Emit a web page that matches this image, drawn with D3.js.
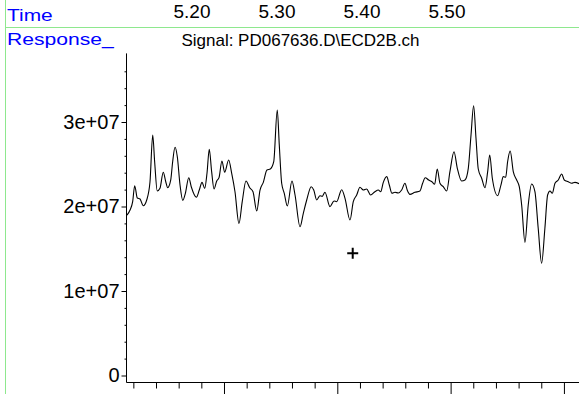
<!DOCTYPE html>
<html>
<head>
<meta charset="utf-8">
<script src="https://cdn.jsdelivr.net/npm/d3@7/dist/d3.min.js"></script>
<style>
  html, body { margin: 0; padding: 0; background: #fff; }
  svg { display: block; }
  text { font-family: "Liberation Sans", Arial, sans-serif; }
</style>
</head>
<body>
<svg id="chart" width="579" height="394"></svg>
<script>
// ---------- DATA ----------
// retention time (min)
const times = [5.1144,5.1171,5.1194,5.1212,5.1235,5.1259,5.1288,5.1318,5.1347,5.1371,
  5.1388,5.1411,5.1435,5.1464,5.1486,5.1503,5.1530,5.1547,5.1568,5.1588,
  5.1612,5.1636,5.1659,5.1689,5.1711,5.1756,5.1782,5.1806,5.1830,5.1850,
  5.1870,5.1891,5.1912,5.1936,5.1956,5.1982,5.2006,5.2041,5.2068,5.2097,
  5.2132,5.2161,5.2194,5.2227,5.2256,5.2289,5.2318,5.2347,5.2379,5.2409,
  5.2439,5.2470,5.2488,5.2509,5.2532,5.2559,5.2600,5.2627,5.2671,5.2700,
  5.2730,5.2770,5.2792,5.2818,5.2847,5.2867,5.2891,5.2935,5.2971,5.2994,
  5.3039,5.3068,5.3112,5.3141,5.3171,5.3200,5.3229,5.3259,5.3294,5.3332,
  5.3362,5.3383,5.3406,5.3436,5.3459,5.3482,5.3509,5.3538,5.3568,5.3597,
  5.3617,5.3641,5.3685,5.3729,5.3753,5.3776,5.3806,5.3835,5.3859,5.3882,
  5.3906,5.3935,5.3965,5.3994,5.4030,5.4059,5.4097,5.4127,5.4156,5.4180,
  5.4203,5.4224,5.4244,5.4274,5.4303,5.4327,5.4345,5.4368,5.4415,5.4444,
  5.4465,5.4486,5.4503,5.4526,5.4553,5.4583,5.4606,5.4627,5.4656,5.4685,
  5.4715,5.4744,5.4773,5.4803,5.4832,5.4856,5.4877,5.4897,5.4921,5.4950,
  5.4980,5.5003,5.5038,5.5068,5.5097,5.5133];
// detector response, in millions of counts
const responseM = [18.99,19.59,20.57,22.46,21.01,20.89,20.09,20.77,22.93,28.46,
  25.30,21.83,22.15,24.05,22.93,22.22,23.14,25.30,27.01,25.89,
  22.54,20.73,21.56,23.41,22.34,21.09,21.95,22.86,22.15,23.93,
  26.77,24.12,22.07,23.02,23.41,25.38,24.05,25.50,23.93,21.75,
  17.99,20.57,23.02,22.22,21.75,19.47,21.95,22.86,24.32,24.44,
  25.30,31.42,27.28,22.75,21.56,20.06,23.02,21.36,17.61,19.19,
  20.77,22.34,21.95,20.77,21.28,21.20,21.68,19.98,20.65,20.57,
  21.99,20.97,18.40,20.57,21.36,22.27,21.95,22.07,21.36,21.75,
  21.95,21.75,22.86,23.53,22.54,21.56,21.68,21.60,21.95,22.75,
  21.95,21.44,21.68,21.83,22.75,23.41,23.14,22.93,22.63,24.44,
  22.75,22.34,21.83,24.12,26.48,24.52,23.02,23.14,24.52,28.46,
  31.93,28.07,24.44,23.34,22.22,24.12,26.09,23.34,21.28,22.54,
  23.53,23.46,25.30,26.57,24.12,23.14,22.34,20.18,15.76,20.18,
  22.66,21.75,17.42,13.28,17.42,21.36,21.83,21.56,22.75,23.14,
  23.85,23.14,22.93,22.75,22.86,22.70];

const headerTimes = [5.20, 5.30, 5.40, 5.50];
const yMajorTicks = [0, 1e7, 2e7, 3e7];
const cursorMark = { t: 5.3136, v: 1.446e7 };
const signalName = "Signal: PD067636.D\\ECD2B.ch";

// ---------- SETUP ----------
const svg = d3.select("#chart");
const W = 579, H = 394;
const FRAME = "#8ee88e", BLUE = "#0000ff";

const x = d3.scaleLinear().domain([5.1144, 5.5133]).range([127, 579]);
const y = d3.scaleLinear().domain([0, 3e7]).range([375.5, 122]);
const yTop = 3.8e7, yFloor = -0.077e7;
const xHead = d3.scaleLinear().domain([5.2, 5.5]).range([192, 447]);

// frame lines
svg.append("line").attr("x1", 5.5).attr("x2", 5.5).attr("y1", 0).attr("y2", H)
  .attr("stroke", FRAME).attr("stroke-width", 1);
svg.append("line").attr("x1", 5).attr("x2", W).attr("y1", 27.5).attr("y2", 27.5)
  .attr("stroke", FRAME).attr("stroke-width", 1);

// header texts (blue ones are printed wide)
function wideText(txt, tx, ty, size, sx, color){
  return svg.append("text")
    .attr("transform", `translate(${tx},${ty}) scale(${sx},1)`)
    .attr("font-size", size).attr("fill", color).text(txt);
}
wideText("Time", 7, 21, 16.5, 1.27, BLUE);
wideText("Response_", 7, 44.5, 16.5, 1.28, BLUE);

svg.append("g").selectAll("text").data(headerTimes).join("text")
  .attr("x", d => xHead(d)).attr("y", 17.5)
  .attr("text-anchor", "middle").attr("font-size", 19).attr("fill", "#000")
  .text(d => d.toFixed(2));

svg.append("text").attr("x", 300.5).attr("y", 46)
  .attr("text-anchor", "middle").attr("font-size", 17).attr("fill", "#000")
  .text(signalName);

// ---------- AXES ----------
const axisY = Math.round(y(yFloor)) + 0.5;
const axisX = Math.round(x.range()[0]) - 0.5;

svg.append("line").attr("x1", axisX).attr("x2", axisX)
  .attr("y1", y(yTop) - 1).attr("y2", axisY)
  .attr("stroke", "#000").attr("stroke-width", 1);
svg.append("line").attr("x1", axisX).attr("x2", W)
  .attr("y1", axisY).attr("y2", axisY)
  .attr("stroke", "#000").attr("stroke-width", 1);

// y minor ticks
const yMinor = d3.range(0, 3.61e7, 2e6).filter(v => v % 1e7 !== 0);
svg.append("g").attr("transform", `translate(${axisX},0)`)
  .call(d3.axisLeft(y).tickValues(yMinor).tickSize(2).tickFormat(""))
  .call(g => g.select(".domain").remove());
// y major ticks + labels
svg.append("g").attr("transform", `translate(${axisX},0)`)
  .call(d3.axisLeft(y).tickValues(yMajorTicks).tickSize(5).tickPadding(2)
    .tickFormat(v => v === 0 ? "0" : (v / 1e7) + "e+07"))
  .call(g => g.select(".domain").remove())
  .call(g => g.selectAll("text").attr("font-size", 20)
    .attr("font-family", "Liberation Sans, Arial, sans-serif").attr("fill", "#000"));

// x ticks: minor every 0.02, major every 0.1
const xMinor = d3.range(5.12, 5.511, 0.02).filter(t => Math.abs(t * 10 - Math.round(t * 10)) > 1e-6);
svg.append("g").attr("transform", `translate(0,${axisY})`)
  .call(d3.axisBottom(x).tickValues(xMinor).tickSize(6).tickFormat(""))
  .call(g => g.select(".domain").remove());
svg.append("g").attr("transform", `translate(0,${axisY})`)
  .call(d3.axisBottom(x).tickValues(headerTimes).tickSize(12).tickFormat(""))
  .call(g => g.select(".domain").remove());

// ---------- TRACE ----------
const pts = times.map((t, i) => ({ t, v: responseM[i] * 1e6 }));
const line = d3.line().x(d => x(d.t)).y(d => y(d.v)).curve(d3.curveMonotoneX);
svg.append("path").datum(pts)
  .attr("d", line).attr("fill", "none")
  .attr("stroke", "#000").attr("stroke-width", 1.1).attr("stroke-linejoin", "round");

// cursor cross
const cx = x(cursorMark.t), cy = y(cursorMark.v), r = 5.5;
svg.append("path")
  .attr("d", `M${cx - r},${cy}H${cx + r}M${cx},${cy - r}V${cy + r}`)
  .attr("stroke", "#000").attr("stroke-width", 2);
</script>
</body>
</html>
